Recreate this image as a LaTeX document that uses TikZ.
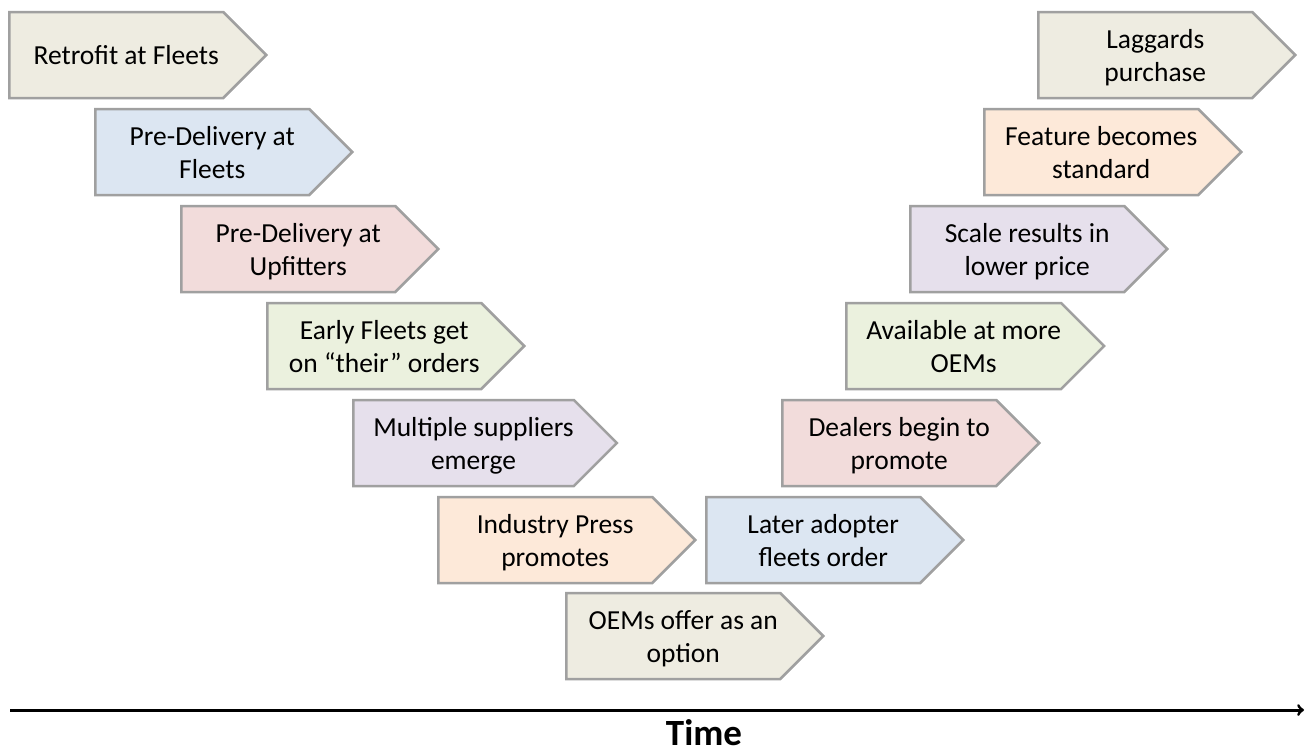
\documentclass[tikz,border=0pt]{standalone}
\usepackage{fontspec}
\setmainfont{Carlito}
\usetikzlibrary{shapes.symbols}
\definecolor{fg}{HTML}{EEECE1}
\definecolor{fb}{HTML}{DCE6F2}
\definecolor{fr}{HTML}{F2DCDB}
\definecolor{fv}{HTML}{EBF1DE}
\definecolor{fm}{HTML}{E6E0EC}
\definecolor{fo}{HTML}{FDE9D9}
\definecolor{bord}{HTML}{A0A0A0}
\newcommand{\sigtxt}[1]{\hspace*{20pt}\raisebox{-3pt}[\height][\depth]{\begin{tabular}{@{}c@{}}#1\end{tabular}}}
\tikzset{
  sig/.style = {signal, signal to=east, signal pointer angle=90,
    draw=bord, line width=2.5pt, anchor=west, minimum width=257pt,
    minimum height=86pt, inner sep=0pt,
    font=\fontsize{27.5}{33}\selectfont},
  sig_g/.style = {sig, fill=fg},% gris
  sig_b/.style = {sig, fill=fb},% bleu
  sig_r/.style = {sig, fill=fr},% rose
  sig_v/.style = {sig, fill=fv},% vert
  sig_m/.style = {sig, fill=fm},% mauve
  sig_o/.style = {sig, fill=fo}% orange
}
\begin{document}
\begin{tikzpicture}[x=1pt,y=-1pt]
  \useasboundingbox (0,0) rectangle (1307,755);
  % descente
  \node [sig_g] (retro) at (8,55) {\sigtxt{Retrofit at Fleets}};
  \node [sig_b] (predf) at (94,152) {\sigtxt{Pre-Delivery at\\Fleets}};
  \node [sig_r] (predu) at (180,249) {\sigtxt{Pre-Delivery at\\Upfitters}};
  \node [sig_v] (early) at (266,346) {\sigtxt{Early Fleets get\\on “their” orders}};
  \node [sig_m] (multi) at (352,443) {\sigtxt{Multiple suppliers\\emerge}};
  \node [sig_o] (press) at (437,540) {\sigtxt{Industry Press\\promotes}};
  \node [sig_g] (oems)  at (565,636) {\sigtxt{OEMs offer as an\\option}};
  % remontee
  \node [sig_b] (later) at (705,540) {\sigtxt{Later adopter\\fleets order}};
  \node [sig_r] (deal)  at (781,443) {\sigtxt{Dealers begin to\\promote}};
  \node [sig_v] (avail) at (845,346) {\sigtxt{Available at more\\OEMs}};
  \node [sig_m] (scale) at (909,249) {\sigtxt{Scale results in\\lower price}};
  \node [sig_o] (feat)  at (983,152) {\sigtxt{Feature becomes\\standard}};
  \node [sig_g] (lagg)  at (1037,55) {\sigtxt{Laggards\\purchase}};
  % axe du temps
  \coordinate (t0) at (10,710);
  \coordinate (t1) at (1304,710);
  \draw [->, line width=3pt] (t0) -- (t1);
  \node [font=\fontsize{37}{40}\selectfont\bfseries, anchor=base,
    inner sep=0pt] (time) at (704,745) {Time};
\end{tikzpicture}
\end{document}
